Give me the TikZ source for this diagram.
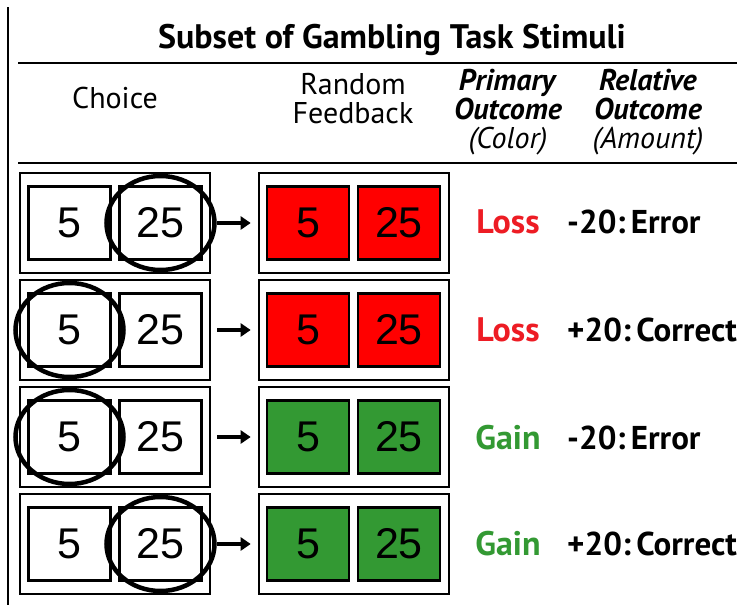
\documentclass[tikz,border=0pt]{standalone}
\usepackage{fontspec}
\setmainfont{PT Sans}
\newfontfamily\numfont{Liberation Sans}
\usepackage{tikz}
\usetikzlibrary{arrows.meta,shapes.geometric}
\definecolor{gt@red}{RGB}{255, 0, 0}
\definecolor{gt@green}{RGB}{51, 153, 51}
\definecolor{gt@textred}{RGB}{237, 28, 36}

\begin{document}
\begin{tikzpicture}[x=1pt, y=-1pt,
  outer/.style = {rectangle, draw=black, line width=2.6pt, minimum width=190pt,
                  minimum height=100pt, inner sep=0pt},
  card/.style  = {rectangle, draw=black, line width=2.6pt, minimum width=82pt,
                  minimum height=73pt, inner sep=0pt,
                  font=\fontsize{43}{45}\selectfont\numfont},
  pick/.style  = {ellipse, draw=black, line width=4.5pt, minimum width=108pt,
                  minimum height=94pt, inner sep=0pt},
  hdr/.style   = {align=center, font=\fontsize{30}{29}\selectfont, inner sep=0pt},
  res/.style   = {font=\fontsize{34}{36}\selectfont\bfseries, inner sep=0pt},
  rel/.style   = {anchor=west, font=\fontsize{33}{35}\selectfont\bfseries, inner sep=0pt},
  go/.style    = {-{Triangle[length=10pt,width=13pt]}, line width=3.8pt},
]
  \useasboundingbox (0,0) rectangle (737,605);

  % frame and header
  \draw[line width=2.2pt] (8,7) -- (8,605);
  \node[font=\fontsize{34}{36}\selectfont\bfseries, inner sep=0pt] (title) at (392,40)
    {Subset of Gambling Task Stimuli};
  \draw[line width=2pt] (18,63) -- (737,63);
  \node[hdr] (hchoice) at (115,98)   {Choice};
  \node[hdr] (hfb)     at (353,98.5) {Random\\Feedback};
  \node[hdr] (hprim)   at (508,112.5) {\textbf{\textit{Primary}}\\\textbf{\textit{Outcome}}\\\textit{(Color)}};
  \node[hdr] (hrel)    at (648,112.5) {\textbf{\textit{Relative}}\\\textbf{\textit{Outcome}}\\\textit{(Amount)}};
  \draw[line width=2pt] (18,163) -- (737,163);

  % row 1
  \node[outer] (ch1) at (115,223) {};
  \node[card]  (ch1a) at (69.5,223)  {5};
  \node[card]  (ch1b) at (160.5,223) {25};
  \node[pick]  (pk1)  at (ch1b) {};
  \node[outer] (fb1) at (354,223) {};
  \node[card, fill=gt@red] (fb1a) at (308,223) {5};
  \node[card, fill=gt@red] (fb1b) at (399,223) {25};
  \draw[go] (pk1.east) -- ([xshift=-7pt]fb1.west);
  \node[res, text=gt@textred] (po1) at (508,222) {Loss};
  \node[rel] (ro1) at (567,222) {-20:\,Error};

  % row 2
  \node[outer] (ch2) at (115,330) {};
  \node[card]  (ch2a) at (69.5,330)  {5};
  \node[card]  (ch2b) at (160.5,330) {25};
  \node[pick]  (pk2)  at (ch2a) {};
  \node[outer] (fb2) at (354,330) {};
  \node[card, fill=gt@red] (fb2a) at (308,330) {5};
  \node[card, fill=gt@red] (fb2b) at (399,330) {25};
  \draw[go] ([xshift=6pt]ch2.east) -- ([xshift=-7pt]fb2.west);
  \node[res, text=gt@textred] (po2) at (508,330) {Loss};
  \node[rel] (ro2) at (567,330) {+20:\,Correct};

  % row 3
  \node[outer] (ch3) at (115,437) {};
  \node[card]  (ch3a) at (69.5,437)  {5};
  \node[card]  (ch3b) at (160.5,437) {25};
  \node[pick]  (pk3)  at (ch3a) {};
  \node[outer] (fb3) at (354,437) {};
  \node[card, fill=gt@green] (fb3a) at (308,437) {5};
  \node[card, fill=gt@green] (fb3b) at (399,437) {25};
  \draw[go] ([xshift=6pt]ch3.east) -- ([xshift=-7pt]fb3.west);
  \node[res, text=gt@green] (po3) at (508,438) {Gain};
  \node[rel] (ro3) at (567,438) {-20:\,Error};

  % row 4
  \node[outer] (ch4) at (115,544) {};
  \node[card]  (ch4a) at (69.5,544)  {5};
  \node[card]  (ch4b) at (160.5,544) {25};
  \node[pick]  (pk4)  at (ch4b) {};
  \node[outer] (fb4) at (354,544) {};
  \node[card, fill=gt@green] (fb4a) at (308,544) {5};
  \node[card, fill=gt@green] (fb4b) at (399,544) {25};
  \draw[go] (pk4.east) -- ([xshift=-7pt]fb4.west);
  \node[res, text=gt@green] (po4) at (508,544) {Gain};
  \node[rel] (ro4) at (567,544) {+20:\,Correct};
\end{tikzpicture}
\end{document}
